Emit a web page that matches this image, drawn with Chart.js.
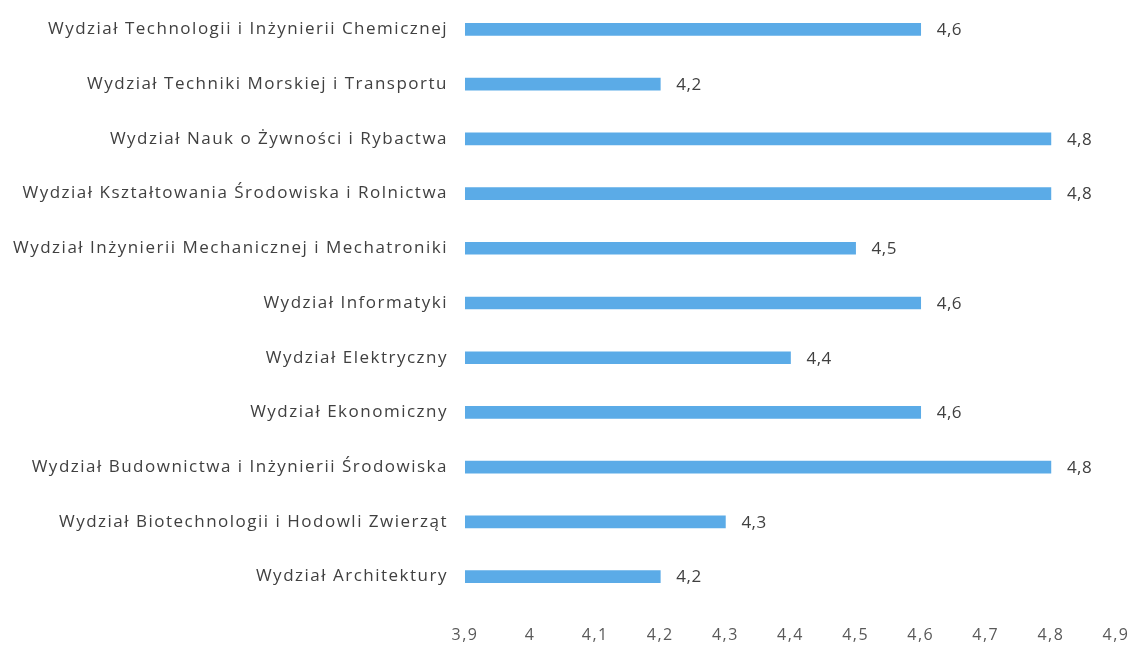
<!DOCTYPE html>
<html>
<head>
<meta charset="utf-8">
<script src="https://cdn.jsdelivr.net/npm/chart.js@4"></script>
<style>
  html, body { margin: 0; padding: 0; background: #fff; }
  #wrap { width: 1134px; height: 648px; }
</style>
</head>
<body>
<div id="wrap"><canvas id="myChart" width="1134" height="648"></canvas></div>
<script>
// Categories, top to bottom
const faculties = [
  "Wydział Technologii i Inżynierii Chemicznej",
  "Wydział Techniki Morskiej i Transportu",
  "Wydział Nauk o Żywności i Rybactwa",
  "Wydział Kształtowania Środowiska i Rolnictwa",
  "Wydział Inżynierii Mechanicznej i Mechatroniki",
  "Wydział Informatyki",
  "Wydział Elektryczny",
  "Wydział Ekonomiczny",
  "Wydział Budownictwa i Inżynierii Środowiska",
  "Wydział Biotechnologii i Hodowli Zwierząt",
  "Wydział Architektury"
];
// Average scores
const scores = [4.6, 4.2, 4.8, 4.8, 4.5, 4.6, 4.4, 4.6, 4.8, 4.3, 4.2];
// x axis range
const axisMin = 3.9;
const axisMax = 4.9;
const axisStep = 0.1;

const fmt = v => (Math.round(v * 10) / 10).toString().replace('.', ',');
const FONT = '"Open Sans", Lato, sans-serif';

// reference text is a bit stretched, so spread letters
const spacing = {
  id: 'spacing',
  beforeDraw(chart) { chart.ctx.letterSpacing = '1.5px'; }
};

// value labels at the end of every bar
const barValues = {
  id: 'barValues',
  afterDatasetsDraw(chart) {
    const ctx = chart.ctx;
    const meta = chart.getDatasetMeta(0);
    ctx.save();
    ctx.letterSpacing = '0.5px';
    ctx.font = '17px ' + FONT;
    ctx.fillStyle = '#404040';
    ctx.textAlign = 'left';
    ctx.textBaseline = 'middle';
    meta.data.forEach((bar, i) => {
      ctx.fillText(fmt(scores[i]), bar.x + 16, bar.y + 1);
    });
    ctx.restore();
  }
};

new Chart("myChart", {
  type: "bar",
  data: {
    labels: faculties,
    datasets: [{
      data: scores,
      backgroundColor: "#5babe7",
      barThickness: 12,
      borderWidth: 0
    }]
  },
  options: {
    indexAxis: 'y',
    responsive: false,
    animation: false,
    layout: { padding: { top: 2, right: 18, bottom: 0, left: 0 } },
    plugins: {
      legend: { display: false },
      tooltip: { enabled: false }
    },
    scales: {
      x: {
        min: axisMin,
        max: axisMax,
        grid: { display: false, drawTicks: true, tickLength: 22 },
        border: { display: false },
        afterFit: s => { s.height = 44; },
        ticks: {
          stepSize: axisStep,
          padding: 0,
          color: '#595959',
          font: { family: FONT, size: 16 },
          callback: v => fmt(v)
        }
      },
      y: {
        grid: { display: false, drawTicks: true, tickLength: 17 },
        border: { display: false },
        afterFit: s => { s.width = 465; },
        ticks: {
          padding: 0,
          color: '#404040',
          font: { family: FONT, size: 17, lineHeight: 0.2 }
        }
      }
    }
  },
  plugins: [spacing, barValues]
});
</script>
</body>
</html>
